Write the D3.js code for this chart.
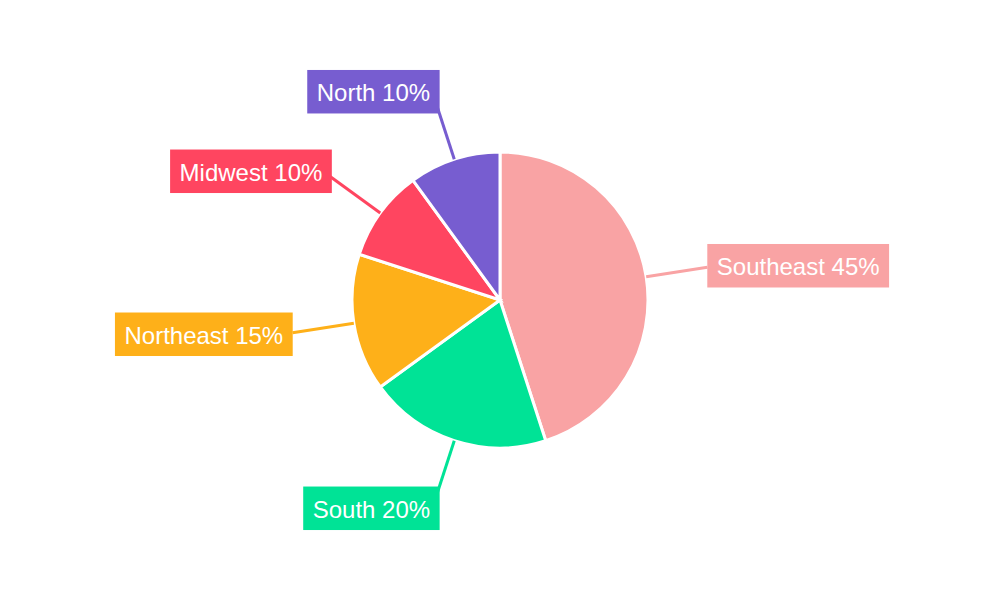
<!DOCTYPE html>
<html><head><meta charset="utf-8">
<script src="https://cdn.jsdelivr.net/npm/d3@7"></script>
<style>html,body{margin:0;padding:0;background:#fff;}svg{display:block;}</style>
</head><body>
<svg id="chart" width="1000" height="600"></svg>
<script>
const categories = ["Southeast", "South", "Northeast", "Midwest", "North"];
const values = [45, 20, 15, 10, 10];
const colors = ["#F9A3A4", "#00E396", "#FEB019", "#FF4560", "#775DD0"];

const svg = d3.select("#chart");
const cx = 500, cy = 300, R = 148, labelR = 210;
const g = svg.append("g").attr("transform", `translate(${cx},${cy})`);

const data = categories.map((c, i) => ({ name: c, value: values[i], color: colors[i] }));
const total = d3.sum(values);
const pie = d3.pie().value(d => d.value).sort(null);
const arcs = pie(data);
const arc = d3.arc().innerRadius(0).outerRadius(R);

g.selectAll("path.slice").data(arcs).join("path")
  .attr("class", "slice")
  .attr("d", arc)
  .attr("fill", d => d.data.color)
  .attr("stroke", "#fff")
  .attr("stroke-width", 3);

const polar = (r, a) => [r * Math.sin(a), -r * Math.cos(a)];

arcs.forEach(d => {
  const mid = (d.startAngle + d.endAngle) / 2;
  const p0 = polar(R, mid);
  const p1 = polar(labelR, mid);
  const right = Math.sin(mid) >= 0;
  const c = Math.cos(mid);
  const label = `${d.data.name} ${Math.round(d.data.value / total * 100)}%`;

  g.append("line")
    .attr("x1", p0[0]).attr("y1", p0[1])
    .attr("x2", p1[0]).attr("y2", p1[1])
    .attr("stroke", d.data.color).attr("stroke-width", 3);

  const lg = g.append("g");
  const rect = lg.append("rect").attr("fill", d.data.color);
  const text = lg.append("text")
    .attr("fill", "#fff")
    .attr("font-family", "'Liberation Sans', Arial, sans-serif")
    .attr("font-size", 24)
    .attr("dominant-baseline", "central")
    .attr("text-anchor", "middle")
    .text(label);
  const tw = text.node().getComputedTextLength();
  const padX = 9.5, h = 43.5, w = tw + 2 * padX;
  const edgeX = p1[0] + (right ? -1 : 1) * 5 * c * c;
  const x0 = right ? edgeX : edgeX - w;
  const ym = p1[1] - 9 * c;
  rect.attr("x", x0).attr("y", ym - h / 2).attr("width", w).attr("height", h);
  text.attr("x", x0 + w / 2).attr("y", ym + 1);
});
</script>
</body></html>
